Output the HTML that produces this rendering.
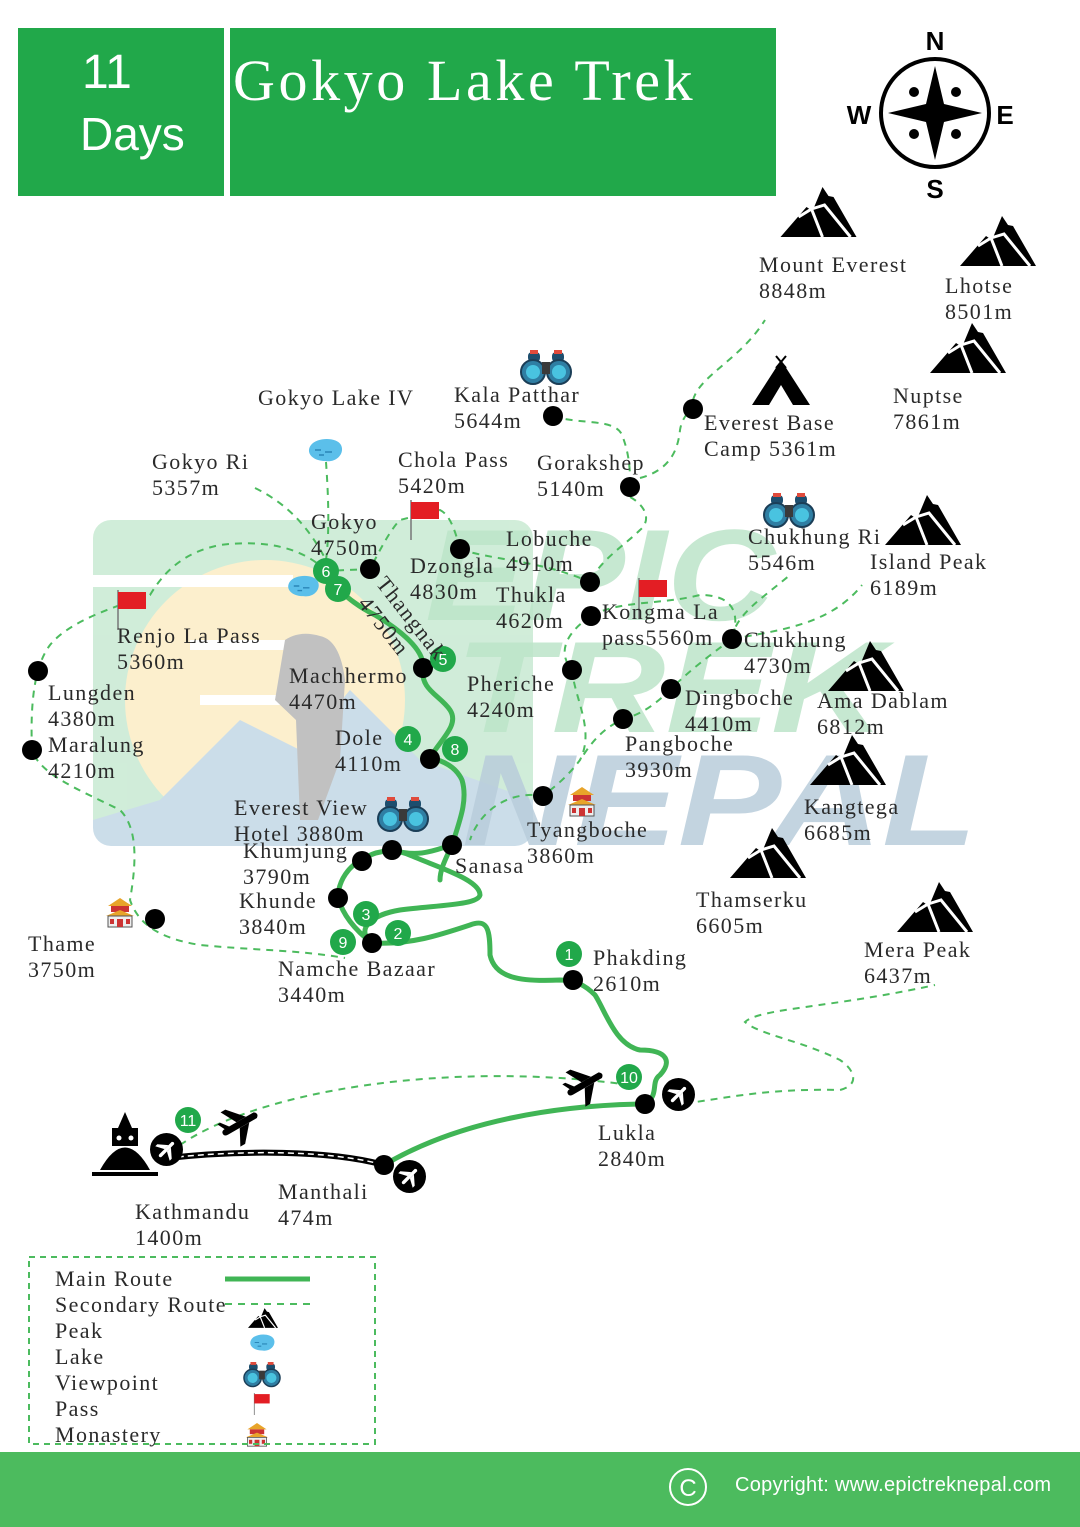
<!DOCTYPE html>
<html><head><meta charset="utf-8"><style>
html,body{margin:0;padding:0;background:#fff}
svg{display:block}
.t{font-family:"Liberation Serif",serif;font-size:22px;fill:#2a2a2a;letter-spacing:1.4px}
.n{font-family:"Liberation Sans",sans-serif;font-size:16px;fill:#fff;text-anchor:middle}
.sd{fill:none;stroke:#4cbb5e;stroke-width:2;stroke-dasharray:7 6}
.mr{fill:none;stroke:#40b555;stroke-width:5;stroke-linecap:round;stroke-linejoin:round}
</style></head><body>
<svg width="1080" height="1527" viewBox="0 0 1080 1527" xmlns="http://www.w3.org/2000/svg">
<defs>
<clipPath id="wc"><rect x="93" y="520" width="440" height="326" rx="18"/></clipPath>
<symbol id="mt" viewBox="0 0 76 50"><polygon points="0,50 26,20 32,24 42,0 48,9 53,10 76,50" fill="#000"/><path d="M18,30 L31,22 L42,50 M31,22 L44,18 L70,50" stroke="#fff" stroke-width="3" fill="none"/></symbol>
<symbol id="bino" viewBox="0 0 52 36"><rect x="8" y="2" width="12" height="10" rx="4" fill="#1d4e6e"/><rect x="32" y="2" width="12" height="10" rx="4" fill="#1d4e6e"/><rect x="10" y="0" width="8" height="4" fill="#e04b3c"/><rect x="34" y="0" width="8" height="4" fill="#e04b3c"/><circle cx="13" cy="22" r="12" fill="#2f7ea3" stroke="#1b3e57" stroke-width="2"/><circle cx="39" cy="22" r="12" fill="#2f7ea3" stroke="#1b3e57" stroke-width="2"/><circle cx="13" cy="22" r="7" fill="#49c3e0"/><circle cx="39" cy="22" r="7" fill="#49c3e0"/><rect x="22" y="12" width="8" height="12" fill="#3a3a3a"/></symbol>
<symbol id="lake" viewBox="0 0 36 26"><path d="M4,8 C10,0 30,0 34,8 C38,16 30,26 18,24 C6,24 -2,16 4,8Z" fill="#5bbfea"/><path d="M8,13 h6 M18,15 h7 M12,18 h5" stroke="#2a86b8" stroke-width="1.5"/></symbol>
<symbol id="flag" viewBox="0 0 32 40"><line x1="2" y1="0" x2="2" y2="40" stroke="#777" stroke-width="1.5"/><rect x="2" y="2" width="28" height="17" fill="#e31e24"/></symbol>
<symbol id="mon" viewBox="0 0 30 30"><polygon points="15,0 27,8 3,8" fill="#e8a42a"/><rect x="6" y="8" width="18" height="6" fill="#c33"/><polygon points="15,12 29,18 1,18" fill="#e8a42a"/><rect x="3" y="18" width="24" height="11" fill="#eee" stroke="#555"/><rect x="12" y="21" width="6" height="8" fill="#c33"/><rect x="5" y="21" width="4" height="5" fill="#c33"/><rect x="21" y="21" width="4" height="5" fill="#c33"/></symbol>
<symbol id="plane" viewBox="-20 -20 40 40"><g fill="#000"><path d="M-18,0 Q-18,-3 -14,-3 L16,-3 Q20,0 16,3 L-14,3 Q-18,3 -18,0Z"/><path d="M-2,-3 L-10,-18 L-5,-18 L8,-3Z"/><path d="M-2,3 L-10,18 L-5,18 L8,3Z"/><path d="M-14,-2 L-18,-10 L-15,-10 L-9,-2Z"/></g></symbol>
<symbol id="air" viewBox="-16 -16 32 32"><circle r="16" fill="#000"/><g transform="rotate(-45) scale(0.55)" fill="#fff"><path d="M-18,0 Q-18,-3 -14,-3 L16,-3 Q20,0 16,3 L-14,3 Q-18,3 -18,0Z"/><path d="M-2,-3 L-10,-18 L-5,-18 L8,-3Z"/><path d="M-2,3 L-10,18 L-5,18 L8,3Z"/></g></symbol>
</defs>

<!-- watermark -->
<g opacity="0.7" clip-path="url(#wc)">
<rect x="93" y="520" width="440" height="326" fill="#bde5c9"/>
<circle cx="265" cy="700" r="140" fill="#fbe9b8"/>
<rect x="93" y="575" width="200" height="12" fill="#fff"/>
<rect x="190" y="640" width="120" height="10" fill="#fff"/>
<rect x="200" y="695" width="90" height="10" fill="#fff"/>
<polygon points="93,820 160,800 240,720 300,750 350,690 420,760 533,800 533,846 93,846" fill="#b6cfe0"/>
<path d="M285,640 Q300,630 320,636 Q340,640 345,680 L340,760 L318,820 L300,820 L296,720 L275,700Z" fill="#a8a8a8"/>
</g>
<g font-family="Liberation Sans,sans-serif" font-weight="bold" font-style="italic" font-size="130" opacity="0.85">
<text x="425" y="620" fill="#bde5c9" textLength="350" lengthAdjust="spacingAndGlyphs">EPIC</text>
<text x="455" y="732" fill="#bde5c9" textLength="430" lengthAdjust="spacingAndGlyphs">TREK</text>
<text x="462" y="845" fill="#b9cddb" textLength="515" lengthAdjust="spacingAndGlyphs">NEPAL</text>
</g>

<!-- header -->
<rect x="18" y="28" width="206" height="168" fill="#21a84a"/>
<rect x="230" y="28" width="546" height="168" fill="#21a84a"/>
<text x="82" y="88" font-family="Liberation Sans,sans-serif" font-size="48" fill="#fff">11</text>
<text x="80" y="150" font-family="Liberation Sans,sans-serif" font-size="46" fill="#fff">Days</text>
<text x="233" y="100" font-family="Liberation Serif,serif" font-size="58" fill="#fff" letter-spacing="3.6">Gokyo Lake Trek</text>

<!-- compass -->
<circle cx="935" cy="113" r="54" fill="none" stroke="#000" stroke-width="4"/>
<polygon points="935,66 944,104 982,113 944,122 935,160 926,122 888,113 926,104" fill="#000"/>
<g fill="#000"><circle cx="914" cy="92" r="5"/><circle cx="956" cy="92" r="5"/><circle cx="914" cy="134" r="5"/><circle cx="956" cy="134" r="5"/></g>
<g font-family="Liberation Sans,sans-serif" font-weight="bold" font-size="26" fill="#000" text-anchor="middle">
<text x="935" y="50">N</text><text x="935" y="198">S</text><text x="859" y="124">W</text><text x="1005" y="124">E</text></g>

<!-- secondary dashed routes -->
<path class="sd" d="M693,400 C700,375 740,360 765,320"/>
<path class="sd" d="M553,416 C580,425 615,418 622,435 C628,450 630,465 630,480"/>
<path class="sd" d="M640,478 C670,470 678,450 680,430 C682,418 688,412 693,409"/>
<path class="sd" d="M630,497 C645,505 652,520 640,530 C625,545 600,560 590,582"/>
<path class="sd" d="M460,549 C490,560 540,560 590,582"/>
<path class="sd" d="M460,549 C455,530 450,515 440,510 L400,520 C390,530 380,550 370,569"/>
<path class="sd" d="M370,569 L326,571"/>
<path class="sd" d="M255,488 C290,505 310,530 326,560"/>
<path class="sd" d="M326,462 C328,490 330,530 326,560"/>
<path class="sd" d="M326,571 C300,545 260,540 220,545 C185,552 165,570 150,595 C120,605 70,620 50,645 C35,665 30,700 32,750 C40,775 80,790 120,810 C140,830 135,870 130,900 C140,930 170,940 200,945 C250,950 300,950 345,958"/>
<path class="sd" d="M591,616 C570,630 555,650 572,670 C575,700 595,730 580,760 C565,780 550,790 543,796 C510,790 480,810 470,840"/>
<path class="sd" d="M671,689 C655,705 640,715 623,719 C600,730 590,745 580,760"/>
<path class="sd" d="M591,616 C620,600 660,605 700,595 C735,595 740,615 732,639"/>
<path class="sd" d="M732,639 C710,655 690,670 671,689"/>
<path class="sd" d="M732,639 C735,615 760,600 790,575"/>
<path class="sd" d="M732,639 C780,630 830,625 862,585"/>
<path class="sd" d="M672,1105 C720,1100 760,1088 840,1090 C860,1085 855,1070 840,1060 C800,1040 760,1035 745,1022 C760,1008 830,1008 935,985"/>
<path class="sd" d="M180,1145 C260,1090 450,1060 630,1085"/>

<!-- main route -->
<path class="mr" d="M645,1104 C660,1095 650,1082 660,1075 C672,1062 668,1050 640,1050 C615,1045 605,1010 595,995 C585,985 575,980 560,980 C520,982 495,978 490,955 C490,930 488,918 470,925 C440,935 410,945 372,943 C355,930 343,915 338,898 C338,880 350,865 362,860 C375,850 395,848 412,856 C440,868 480,880 480,895 C478,905 440,905 400,910 C370,915 355,930 372,943"/>
<path class="mr" d="M392,850 C420,858 435,850 452,845 C460,820 468,800 462,780 C455,765 440,760 430,758 C440,740 460,725 450,710 C440,695 420,690 423,668 C425,650 400,630 375,615 C355,605 345,595 338,589 L326,571"/>
<path class="mr" d="M423,668 C430,665 440,660 443,659"/>
<path class="mr" d="M452,845 C445,860 440,870 440,880"/>
<path class="mr" d="M645,1104 C560,1105 460,1120 384,1165"/>
<path d="M168,1158 C240,1150 330,1150 384,1165" fill="none" stroke="#000" stroke-width="6"/>
<path d="M168,1158 C240,1150 330,1150 384,1165" fill="none" stroke="#fff" stroke-width="1.5" stroke-dasharray="6 4"/>

<!-- dots -->
<g fill="#000">
<circle cx="553" cy="416" r="10"/><circle cx="693" cy="409" r="10"/><circle cx="630" cy="487" r="10"/>
<circle cx="460" cy="549" r="10"/><circle cx="370" cy="569" r="10"/><circle cx="590" cy="582" r="10"/>
<circle cx="591" cy="616" r="10"/><circle cx="732" cy="639" r="10"/><circle cx="572" cy="670" r="10"/>
<circle cx="671" cy="689" r="10"/><circle cx="623" cy="719" r="10"/><circle cx="423" cy="668" r="10"/>
<circle cx="430" cy="759" r="10"/><circle cx="543" cy="796" r="10"/><circle cx="452" cy="845" r="10"/>
<circle cx="362" cy="861" r="10"/><circle cx="392" cy="850" r="10"/><circle cx="338" cy="898" r="10"/>
<circle cx="372" cy="943" r="10"/><circle cx="155" cy="919" r="10"/><circle cx="38" cy="671" r="10"/>
<circle cx="32" cy="750" r="10"/><circle cx="573" cy="980" r="10"/><circle cx="645" cy="1104" r="10"/>
<circle cx="384" cy="1165" r="10"/>
</g>
<!-- numbered -->
<g fill="#21a84a">
<circle cx="326" cy="571" r="13"/><circle cx="338" cy="589" r="13"/><circle cx="443" cy="659" r="13"/>
<circle cx="408" cy="739" r="13"/><circle cx="455" cy="749" r="13"/><circle cx="366" cy="914" r="13"/>
<circle cx="398" cy="933" r="13"/><circle cx="343" cy="942" r="13"/><circle cx="569" cy="954" r="13"/>
<circle cx="629" cy="1077" r="13"/><circle cx="188" cy="1120" r="13"/>
</g>
<g class="n">
<text x="326" y="577">6</text><text x="338" y="595">7</text><text x="443" y="665">5</text>
<text x="408" y="745">4</text><text x="455" y="755">8</text><text x="366" y="920">3</text>
<text x="398" y="939">2</text><text x="343" y="948">9</text><text x="569" y="960">1</text>
<text x="629" y="1083">10</text><text x="188" y="1126">11</text>
</g>

<!-- icons -->
<use href="#mt" x="780" y="187" width="77" height="50"/>
<use href="#mt" x="960" y="216" width="76" height="50"/>
<use href="#mt" x="930" y="323" width="76" height="50"/>
<use href="#mt" x="885" y="495" width="76" height="50"/>
<use href="#mt" x="828" y="641" width="76" height="50"/>
<use href="#mt" x="810" y="735" width="76" height="50"/>
<use href="#mt" x="730" y="828" width="76" height="50"/>
<use href="#mt" x="897" y="882" width="76" height="50"/>
<use href="#mt" x="248" y="1308" width="30" height="20"/>
<g><polygon points="781,360 810,405 752,405" fill="#000"/><polygon points="781,385 793,405 769,405" fill="#fff"/><path d="M776,356 L786,368 M786,356 L776,368" stroke="#000" stroke-width="2"/></g>
<use href="#bino" x="520" y="350" width="52" height="36"/>
<use href="#bino" x="763" y="493" width="52" height="36"/>
<use href="#bino" x="377" y="797" width="52" height="36"/>
<use href="#bino" x="243" y="1362" width="38" height="26"/>
<use href="#lake" x="307" y="437" width="36" height="26"/>
<use href="#lake" x="285" y="574" width="36" height="24"/>
<use href="#lake" x="248" y="1333" width="28" height="19"/>
<use href="#flag" x="409" y="500" width="32" height="40"/>
<use href="#flag" x="116" y="590" width="32" height="40"/>
<use href="#flag" x="637" y="578" width="32" height="40"/>
<use href="#flag" x="252" y="1393" width="20" height="22"/>
<use href="#mon" x="105" y="898" width="30" height="30"/>
<use href="#mon" x="567" y="787" width="30" height="30"/>
<use href="#mon" x="245" y="1423" width="24" height="24"/>
<g fill="#000"><path d="M100,1170 Q125,1125 150,1170Z"/><rect x="112" y="1128" width="26" height="18"/><polygon points="125,1112 132,1128 118,1128"/><rect x="92" y="1172" width="66" height="4"/></g>
<g fill="#fff"><circle cx="119" cy="1138" r="2.5"/><circle cx="131" cy="1138" r="2.5"/></g>
<use href="#plane" x="563" y="1062" width="44" height="44" transform="rotate(-30 585 1084)"/>
<use href="#plane" x="218" y="1102" width="44" height="44" transform="rotate(-30 240 1124)"/>
<use href="#air" x="150" y="1133" width="33" height="33"/>
<use href="#air" x="662" y="1078" width="33" height="33"/>
<use href="#air" x="393" y="1160" width="33" height="33"/>

<!-- labels -->
<g class="t">
<text x="759" y="272">Mount Everest</text><text x="759" y="298">8848m</text>
<text x="945" y="293">Lhotse</text><text x="945" y="319">8501m</text>
<text x="893" y="403">Nuptse</text><text x="893" y="429">7861m</text>
<text x="704" y="430">Everest Base</text><text x="704" y="456">Camp 5361m</text>
<text x="258" y="405">Gokyo Lake IV</text>
<text x="454" y="402">Kala Patthar</text><text x="454" y="428">5644m</text>
<text x="152" y="469">Gokyo Ri</text><text x="152" y="495">5357m</text>
<text x="398" y="467">Chola Pass</text><text x="398" y="493">5420m</text>
<text x="537" y="470">Gorakshep</text><text x="537" y="496">5140m</text>
<text x="311" y="529">Gokyo</text><text x="311" y="555">4750m</text>
<text x="506" y="546">Lobuche</text><text x="506" y="571">4910m</text>
<text x="410" y="573">Dzongla</text><text x="410" y="599">4830m</text>
<text x="748" y="544">Chukhung Ri</text><text x="748" y="570">5546m</text>
<text x="870" y="569">Island Peak</text><text x="870" y="595">6189m</text>
<text x="496" y="602">Thukla</text><text x="496" y="628">4620m</text>
<text x="602" y="619">Kongma La</text><text x="602" y="645">pass5560m</text>
<text x="744" y="647">Chukhung</text><text x="744" y="673">4730m</text>
<text x="117" y="643">Renjo La Pass</text><text x="117" y="669">5360m</text>
<text x="289" y="683">Machhermo</text><text x="289" y="709">4470m</text>
<text x="467" y="691">Pheriche</text><text x="467" y="717">4240m</text>
<text x="685" y="705">Dingboche</text><text x="685" y="731">4410m</text>
<text x="817" y="708">Ama Dablam</text><text x="817" y="734">6812m</text>
<text x="48" y="700">Lungden</text><text x="48" y="726">4380m</text>
<text x="48" y="752">Maralung</text><text x="48" y="778">4210m</text>
<text x="335" y="745">Dole</text><text x="335" y="771">4110m</text>
<text x="625" y="751">Pangboche</text><text x="625" y="777">3930m</text>
<text x="804" y="814">Kangtega</text><text x="804" y="840">6685m</text>
<text x="234" y="815">Everest View</text><text x="234" y="841">Hotel 3880m</text>
<text x="527" y="837">Tyangboche</text><text x="527" y="863">3860m</text>
<text x="243" y="858">Khumjung</text><text x="243" y="884">3790m</text>
<text x="455" y="873">Sanasa</text>
<text x="239" y="908">Khunde</text><text x="239" y="934">3840m</text>
<text x="696" y="907">Thamserku</text><text x="696" y="933">6605m</text>
<text x="28" y="951">Thame</text><text x="28" y="977">3750m</text>
<text x="864" y="957">Mera Peak</text><text x="864" y="983">6437m</text>
<text x="593" y="965">Phakding</text><text x="593" y="991">2610m</text>
<text x="278" y="976">Namche Bazaar</text><text x="278" y="1002">3440m</text>
<text x="598" y="1140">Lukla</text><text x="598" y="1166">2840m</text>
<text x="278" y="1199">Manthali</text><text x="278" y="1225">474m</text>
<text x="135" y="1219">Kathmandu</text><text x="135" y="1245">1400m</text>
</g>
<g transform="rotate(52 380 580)"><text class="t" x="380" y="586">Thangnak</text></g>
<g transform="rotate(52 362 600)"><text class="t" x="362" y="606">4750m</text></g>

<!-- legend -->
<rect x="29" y="1257" width="346" height="187" fill="none" stroke="#4cbb5e" stroke-width="2" stroke-dasharray="6 5"/>
<line x1="225" y1="1279" x2="310" y2="1279" stroke="#40b555" stroke-width="5"/>
<line x1="225" y1="1304" x2="310" y2="1304" class="sd"/>
<g class="t">
<text x="55" y="1286">Main Route</text>
<text x="55" y="1312">Secondary Route</text>
<text x="55" y="1338">Peak</text>
<text x="55" y="1364">Lake</text>
<text x="55" y="1390">Viewpoint</text>
<text x="55" y="1416">Pass</text>
<text x="55" y="1442">Monastery</text>
</g>

<!-- footer -->
<rect x="0" y="1452" width="1080" height="75" fill="#4cbb5e"/>
<circle cx="688" cy="1487" r="18" fill="none" stroke="#fff" stroke-width="2"/>
<text x="688" y="1496" font-family="Liberation Sans,sans-serif" font-size="24" fill="#fff" text-anchor="middle">C</text>
<text x="735" y="1491" font-family="Liberation Sans,sans-serif" font-size="20" fill="#fff" letter-spacing="0.3">Copyright: www.epictreknepal.com</text>
</svg>
</body></html>
